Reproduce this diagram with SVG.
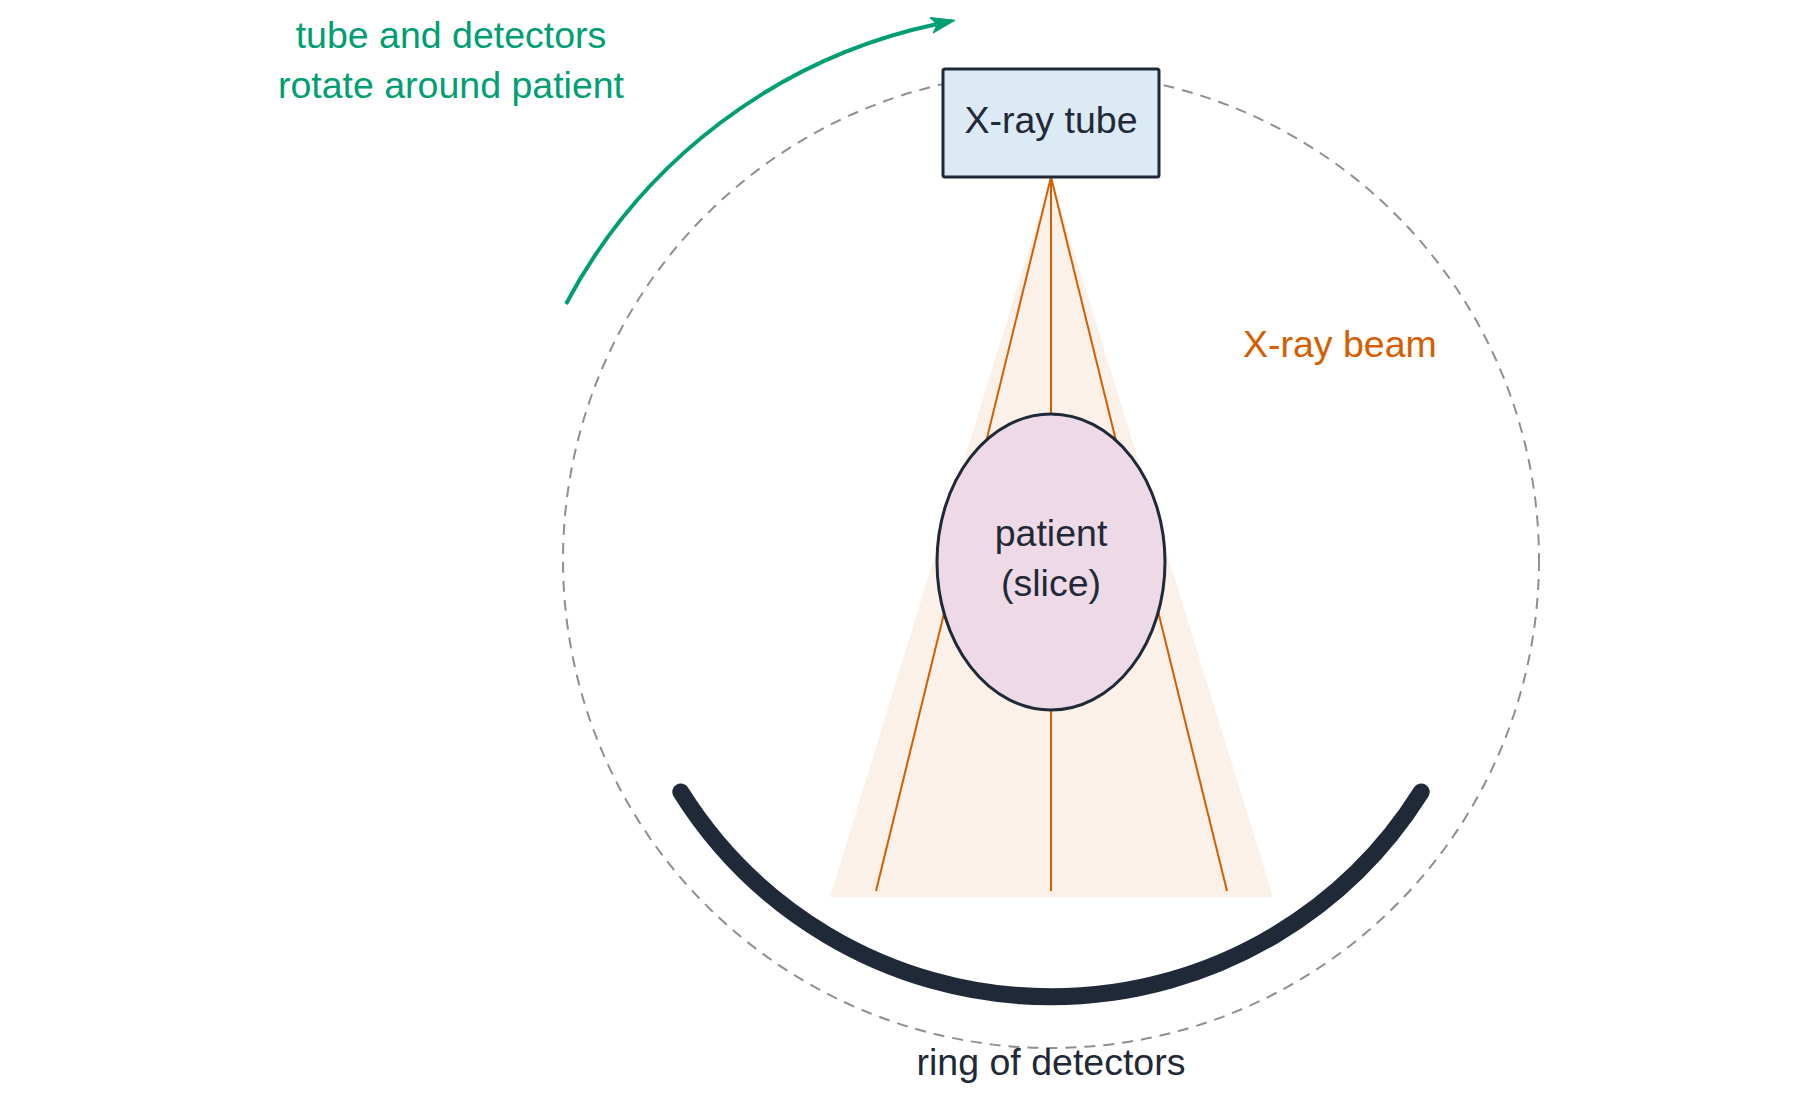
<svg xmlns="http://www.w3.org/2000/svg" width="1800" height="1106" viewBox="0 0 1800 1106">
<style>
  text { font-family: "Liberation Sans", Arial, sans-serif; font-size: 37.5px; }
  .dark { fill: #1f2937; }
  .green { fill: #009e73; }
  .orange { fill: #d55e00; }
  .ray { stroke: #d55e00; stroke-width: 2; fill: none; }
  .outline { stroke: #1f2937; stroke-width: 3; }
</style>
<defs>
  <marker id="arrow" markerUnits="userSpaceOnUse" viewBox="0 0 24 18" markerWidth="24" markerHeight="18" refX="5" refY="9" orient="auto">
    <path d="M0,1 L24,9 L0,17 L6,9 Z" fill="#009e73" stroke="#009e73" stroke-width="1" stroke-linejoin="round"/>
  </marker>
</defs>
<rect width="1800" height="1106" fill="#ffffff"/>

<g id="gantry">
  <circle cx="1051" cy="560" r="488" fill="none" stroke="#8b8f97" stroke-width="2" stroke-dasharray="11 8"/>
</g>

<g id="beam">
  <polygon points="1051,177 830,897 1273,897" fill="#fbf1e8"/>
  <line class="ray" x1="1051" y1="177" x2="876" y2="891"/>
  <line class="ray" x1="1051" y1="177" x2="1051" y2="891"/>
  <line class="ray" x1="1051" y1="177" x2="1227" y2="891"/>
  <text class="orange" x="1243" y="357">X-ray beam</text>
</g>

<g id="connectors">
  <path d="M 566 304 A 548 548 0 0 1 936.3 24.3" fill="none" stroke="#009e73" stroke-width="4" marker-end="url(#arrow)"/>
</g>

<g id="rotation-label">
  <text class="green" x="451" y="48" text-anchor="middle">tube and detectors</text>
  <text class="green" x="451" y="98" text-anchor="middle">rotate around patient</text>
</g>

<g id="xray-tube">
  <rect class="outline" x="943" y="69" width="216" height="108" rx="2" fill="#dbeaf4"/>
  <text class="dark" x="1051" y="133" text-anchor="middle">X-ray tube</text>
</g>

<g id="patient">
  <ellipse class="outline" cx="1051" cy="562" rx="114" ry="148" fill="#eed9e6"/>
  <text class="dark" x="1051" y="546" text-anchor="middle">patient</text>
  <text class="dark" x="1051" y="596" text-anchor="middle">(slice)</text>
</g>

<g id="detectors">
  <path d="M 680.8 792 A 437 437 0 0 0 1421.2 792" fill="none" stroke="#1f2937" stroke-width="17" stroke-linecap="round"/>
  <text class="dark" x="1051" y="1075" text-anchor="middle">ring of detectors</text>
</g>
</svg>
